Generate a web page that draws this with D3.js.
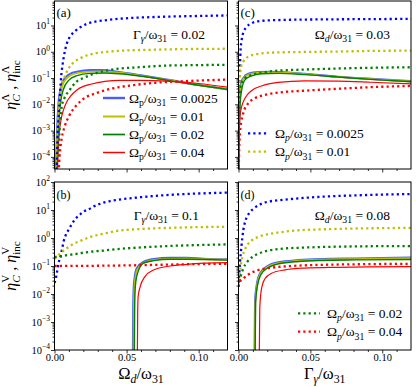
<!DOCTYPE html>
<html>
<head>
<meta charset="utf-8">
<script src="https://cdn.jsdelivr.net/npm/d3@7"></script>
<style>
  body { margin: 0; background: #fff; }
  svg { display: block; }
  text { font-family: "Liberation Serif", "Times New Roman", serif; fill: #000; }
</style>
</head>
<body>
<svg width="416" height="387"></svg>
<script>
// ---- data: [x, eta] pairs ----
// (a) Gamma_gamma/omega31 = 0.02, x = Omega_d/omega31
const aIncBlue = [[0.001,3e-6],[0.0017,8e-5],[0.0021,4.5e-4],[0.0026,1.9e-3],[0.0033,8e-3],[0.004,3.5e-2],[0.0046,0.11],[0.0056,0.32],[0.0069,0.87],[0.0086,2.1],[0.0109,3.8],[0.0144,6.2],[0.0178,8.5],[0.0225,11.5],[0.0282,14],[0.034,15.5],[0.0444,17.8],[0.07,21],[0.09,22.4],[0.108,23.4],[0.12,24]];
const aIncYellow = [[0.0015,1e-5],[0.002,4e-4],[0.003,6.3e-3],[0.004,2.5e-2],[0.005,5.6e-2],[0.007,0.11],[0.0095,0.22],[0.013,0.38],[0.0178,0.56],[0.028,0.87],[0.044,1.07],[0.07,1.2],[0.108,1.29],[0.12,1.3]];
const aIncGreen = [[0.002,1e-5],[0.003,3.2e-4],[0.004,2.5e-3],[0.005,7.9e-3],[0.007,1.8e-2],[0.01,3.2e-2],[0.015,7.1e-2],[0.02,0.1],[0.03,0.16],[0.04,0.21],[0.06,0.26],[0.08,0.3],[0.1,0.31],[0.12,0.32]];
const aIncRed = [[0.0025,1e-5],[0.0035,1e-4],[0.005,5e-4],[0.007,1.4e-3],[0.01,3.5e-3],[0.015,8.9e-3],[0.02,1.6e-2],[0.03,2.8e-2],[0.04,4e-2],[0.055,5.4e-2],[0.07,6.6e-2],[0.09,7.6e-2],[0.108,8.3e-2],[0.12,8.7e-2]];
const aCohBlue = [[0.0007,1e-5],[0.0017,7.9e-4],[0.0026,8.1e-3],[0.004,3.5e-2],[0.0063,8.5e-2],[0.0109,0.145],[0.0155,0.174],[0.025,0.2],[0.032,0.2],[0.045,0.17],[0.06,0.126],[0.08,0.083],[0.1,0.054],[0.12,0.037]];
const aCohYellow = [[0.0009,1e-5],[0.002,6e-4],[0.003,6.3e-3],[0.0045,3e-2],[0.0065,7e-2],[0.011,0.125],[0.016,0.155],[0.025,0.175],[0.033,0.178],[0.045,0.16],[0.06,0.122],[0.08,0.082],[0.1,0.054],[0.12,0.037]];
const aCohGreen = [[0.0011,1e-5],[0.0022,4e-4],[0.003,2.5e-3],[0.004,1e-2],[0.006,3.5e-2],[0.01,8.3e-2],[0.015,0.12],[0.025,0.15],[0.035,0.155],[0.045,0.145],[0.06,0.117],[0.08,0.08],[0.1,0.053],[0.12,0.037]];
const aCohRed = [[0.0017,1e-5],[0.003,5e-4],[0.0045,2.5e-3],[0.0063,6.3e-3],[0.009,1.4e-2],[0.011,2e-2],[0.0155,3.5e-2],[0.02,4.8e-2],[0.025,5.8e-2],[0.035,7.5e-2],[0.045,8.2e-2],[0.06,8.2e-2],[0.08,7.5e-2],[0.1,6.2e-2],[0.12,4.5e-2]];

// (c) Omega_d/omega31 = 0.03, x = Gamma_gamma/omega31
const cIncBlue = [[0,1e-5],[0.0005,1e-2],[0.001,0.25],[0.0015,1.26],[0.0022,2.8],[0.0035,5.6],[0.005,8],[0.009,12],[0.016,15],[0.03,16.2],[0.06,17],[0.09,17.4],[0.12,17.8]];
const cIncYellow = [[0,1e-4],[0.0005,1.6e-2],[0.001,0.11],[0.002,0.3],[0.0033,0.42],[0.0068,0.65],[0.0138,0.83],[0.023,0.93],[0.046,0.98],[0.07,1.02],[0.09,1.07],[0.12,1.1]];
const cIncGreen = [[0,1e-4],[0.0005,8e-3],[0.001,3.2e-2],[0.0022,6.3e-2],[0.0045,9.8e-2],[0.009,0.13],[0.016,0.16],[0.0274,0.19],[0.046,0.21],[0.069,0.23],[0.092,0.245],[0.12,0.257]];
const cIncRed = [[0,1e-5],[0.0005,2e-4],[0.001,8e-4],[0.002,2.2e-3],[0.0033,4.6e-3],[0.0068,1.1e-2],[0.0114,1.7e-2],[0.0184,2.3e-2],[0.0277,2.8e-2],[0.046,3.3e-2],[0.069,3.9e-2],[0.092,4.5e-2],[0.12,5e-2]];
const cCohBlue = [[0,1e-5],[0.0003,1e-3],[0.0006,1.5e-2],[0.0017,6.3e-2],[0.0033,9.8e-2],[0.0068,0.145],[0.0138,0.17],[0.023,0.174],[0.0347,0.162],[0.046,0.145],[0.069,0.112],[0.092,0.093],[0.12,0.076]];
const cCohYellow = [[0,1e-5],[0.0004,1e-3],[0.0008,1.5e-2],[0.002,6e-2],[0.0035,9.3e-2],[0.007,0.135],[0.014,0.16],[0.023,0.165],[0.035,0.156],[0.046,0.142],[0.069,0.11],[0.092,0.092],[0.12,0.075]];
const cCohGreen = [[0,1e-5],[0.0005,1e-3],[0.001,8e-3],[0.0022,3.5e-2],[0.0045,8.5e-2],[0.009,0.12],[0.016,0.145],[0.0277,0.15],[0.046,0.135],[0.069,0.11],[0.092,0.089],[0.12,0.072]];
const cCohRed = [[0,1e-5],[0.0002,1e-4],[0.001,3.4e-3],[0.0022,8.1e-3],[0.0045,1.7e-2],[0.009,3.3e-2],[0.016,5e-2],[0.0277,6.8e-2],[0.046,7.8e-2],[0.069,7.6e-2],[0.092,6.9e-2],[0.12,6e-2]];

// (b) Gamma_gamma/omega31 = 0.1, x = Omega_d/omega31
const bIncBlue = [[0,2.5e-2],[0.0007,3.2e-2],[0.0016,5.5e-2],[0.0028,0.126],[0.004,0.21],[0.0051,0.37],[0.0063,0.74],[0.0074,1.12],[0.0097,1.95],[0.012,3.1],[0.0143,4.7],[0.0173,6.6],[0.0201,8.7],[0.0236,10.5],[0.027,13.2],[0.0305,15.8],[0.034,18.2],[0.0386,20.9],[0.0432,22.9],[0.06,28.8],[0.08,34.7],[0.1,38.9],[0.12,41.7]];
const bIncYellow = [[0,0.18],[0.0028,0.245],[0.0051,0.32],[0.0086,0.43],[0.0132,0.62],[0.0178,0.78],[0.0224,0.98],[0.027,1.17],[0.0317,1.35],[0.0374,1.55],[0.0432,1.78],[0.06,2.1],[0.08,2.3],[0.1,2.45],[0.12,2.5]];
const bIncGreen = [[0,0.21],[0.004,0.215],[0.0086,0.245],[0.0132,0.26],[0.0201,0.3],[0.027,0.33],[0.034,0.355],[0.0432,0.4],[0.06,0.46],[0.08,0.52],[0.1,0.56],[0.12,0.59]];
const bIncRed = [[0,0.1],[0.03,0.102],[0.06,0.107],[0.09,0.115],[0.12,0.12]];
const bCohBlue = [[0.0542,1e-6],[0.0544,1e-4],[0.0546,3e-3],[0.0549,1.5e-2],[0.0555,3.5e-2],[0.0571,8.3e-2],[0.0617,0.141],[0.0687,0.178],[0.0802,0.195],[0.0918,0.195],[0.1033,0.182],[0.12,0.174]];
const bCohYellow = [[0.0546,1e-6],[0.0548,1e-4],[0.055,3e-3],[0.0553,1.4e-2],[0.0559,3.2e-2],[0.0575,7.6e-2],[0.062,0.13],[0.069,0.165],[0.08,0.18],[0.092,0.182],[0.103,0.175],[0.12,0.168]];
const bCohGreen = [[0.0552,1e-6],[0.0554,1e-4],[0.0556,3e-3],[0.0559,1.3e-2],[0.0565,3e-2],[0.058,6.3e-2],[0.0617,0.126],[0.0687,0.155],[0.0802,0.174],[0.0918,0.174],[0.12,0.162]];
const bCohRed = [[0.0573,1e-6],[0.0575,1e-4],[0.0577,2e-3],[0.058,8e-3],[0.0594,1.8e-2],[0.0628,4.2e-2],[0.0687,7.2e-2],[0.0802,0.1],[0.0918,0.115],[0.1033,0.126],[0.12,0.132]];

// (d) Omega_d/omega31 = 0.08, x = Gamma_gamma/omega31
const dIncBlue = [[0,2.5e-2],[0.0004,4.2e-2],[0.001,0.126],[0.002,0.49],[0.0034,1.95],[0.005,4.4],[0.0073,7.6],[0.0108,11.5],[0.0154,16.2],[0.02,19.5],[0.027,22],[0.034,24],[0.045,26.9],[0.06,30.2],[0.08,33.1],[0.1,35.5],[0.12,37.2]];
const dIncYellow = [[0,2e-2],[0.0004,3.2e-2],[0.0015,9.5e-2],[0.0027,0.21],[0.0043,0.37],[0.0061,0.56],[0.0096,0.85],[0.0142,1.12],[0.02,1.35],[0.027,1.55],[0.0363,1.78],[0.0432,1.9],[0.06,2.05],[0.08,2.18],[0.1,2.25],[0.12,2.3]];
const dIncGreen = [[0,1.8e-2],[0.0004,2.4e-2],[0.0015,4.2e-2],[0.0034,8.3e-2],[0.0061,0.14],[0.0096,0.21],[0.0142,0.28],[0.02,0.35],[0.027,0.4],[0.034,0.43],[0.0432,0.45],[0.06,0.48],[0.08,0.5],[0.1,0.51],[0.12,0.51]];
const dIncRed = [[0,1.8e-2],[0.0011,2.8e-2],[0.0034,3.6e-2],[0.0069,5e-2],[0.0138,7.2e-2],[0.023,8.7e-2],[0.037,0.1],[0.058,0.11],[0.081,0.115],[0.12,0.12]];
const dCohBlue = [[0.011,1e-6],[0.0112,1e-4],[0.0115,5.4e-3],[0.0127,2.1e-2],[0.015,5.5e-2],[0.0197,9.5e-2],[0.0278,0.135],[0.0417,0.162],[0.058,0.178],[0.081,0.186],[0.12,0.2]];
const dCohYellow = [[0.0112,1e-6],[0.0114,1e-4],[0.0117,5e-3],[0.0129,2e-2],[0.0152,5.2e-2],[0.02,9e-2],[0.028,0.128],[0.042,0.155],[0.058,0.17],[0.081,0.178],[0.12,0.19]];
const dCohGreen = [[0.0114,1e-6],[0.0116,1e-4],[0.0119,5e-3],[0.0131,1.9e-2],[0.0155,4.8e-2],[0.0203,8.5e-2],[0.028,0.12],[0.042,0.145],[0.058,0.158],[0.081,0.165],[0.12,0.17]];
const dCohRed = [[0.0143,1e-6],[0.0145,1e-4],[0.0148,3e-3],[0.0155,1e-2],[0.0165,2e-2],[0.0184,3.5e-2],[0.023,5.5e-2],[0.0324,7.3e-2],[0.046,8.4e-2],[0.069,9e-2],[0.09,9.3e-2],[0.12,9.5e-2]];

const xTicksMajor = [0, 0.05, 0.1];
const xTicksMinor = [0.01, 0.02, 0.03, 0.04, 0.06, 0.07, 0.08, 0.09, 0.11];
const pumpValues = ["0.0025", "0.01", "0.02", "0.04"];

const colors = { blue: "#0000ff", yellow: "#bfbf00", green: "#008000", red: "#ff0000" };
const solidStyle = {
  blue: { color: "#4b5cff", width: 2.1 },
  yellow: { color: "#bfbf00", width: 1.7 },
  green: { color: "#008000", width: 1.4 },
  red: { color: "#ff0000", width: 1.2 }
};
const dots = "2.2 3.1";

const svg = d3.select("svg");

// text helper: parts = [[string, "sub"|"subit"|"it"|""]]
function rich(g, x, y, parts, size, anchor) {
  const t = g.append("text").attr("x", x).attr("y", y)
    .attr("font-size", size).attr("text-anchor", anchor || "start");
  let shift = 0;
  parts.forEach(([s, kind]) => {
    const ts = t.append("tspan").text(s);
    let target = 0, fs = size;
    if (kind.startsWith("sub")) { target = size * 0.25; fs = size * 0.72; }
    ts.attr("dy", target - shift).attr("font-size", fs);
    if (kind.endsWith("it")) ts.attr("font-style", "italic");
    shift = target;
  });
  return t;
}

const panels = [
  { key: "a", x0: 54.5, x1: 227.5, top: 1, bottom: 169, yLo: Math.pow(10, -4.46), yHi: Math.pow(10, 1.93),
    decades: [1e-4, 1e-3, 1e-2, 1e-1, 1, 10], yLabels: true, xLabels: false,
    inc: [aIncBlue, aIncYellow, aIncGreen, aIncRed], coh: [aCohBlue, aCohYellow, aCohGreen, aCohRed] },
  { key: "c", x0: 238.5, x1: 411, top: 1, bottom: 169, yLo: Math.pow(10, -4.46), yHi: Math.pow(10, 1.93),
    decades: [1e-4, 1e-3, 1e-2, 1e-1, 1, 10], yLabels: false, xLabels: false,
    inc: [cIncBlue, cIncYellow, cIncGreen, cIncRed], coh: [cCohBlue, cCohYellow, cCohGreen, cCohRed] },
  { key: "b", x0: 54.5, x1: 227.5, top: 182, bottom: 350, yLo: 1e-4, yHi: 1e2,
    decades: [1e-4, 1e-3, 1e-2, 1e-1, 1, 10, 100], yLabels: true, xLabels: true,
    inc: [bIncBlue, bIncYellow, bIncGreen, bIncRed], coh: [bCohBlue, bCohYellow, bCohGreen, bCohRed] },
  { key: "d", x0: 238.5, x1: 411, top: 182, bottom: 350, yLo: 1e-4, yHi: 1e2,
    decades: [1e-4, 1e-3, 1e-2, 1e-1, 1, 10, 100], yLabels: false, xLabels: true,
    inc: [dIncBlue, dIncYellow, dIncGreen, dIncRed], coh: [dCohBlue, dCohYellow, dCohGreen, dCohRed] }
];
const order = ["blue", "yellow", "green", "red"];

panels.forEach(p => {
  const x = d3.scaleLinear().domain([0, 0.12]).range([p.x0, p.x1]);
  const y = d3.scaleLog().domain([p.yLo, p.yHi]).range([p.bottom, p.top]);
  const g = svg.append("g");

  g.append("clipPath").attr("id", "clip-" + p.key)
    .append("rect").attr("x", p.x0).attr("y", p.top)
    .attr("width", p.x1 - p.x0).attr("height", p.bottom - p.top);

  const line = d3.line().x(d => x(d[0])).y(d => y(d[1])).curve(d3.curveMonotoneX);
  const plot = g.append("g").attr("clip-path", `url(#clip-${p.key})`);

  p.coh.forEach((s, i) => {
    const st = solidStyle[order[i]];
    plot.append("path").attr("d", line(s)).attr("fill", "none")
      .attr("stroke", st.color).attr("stroke-width", st.width);
  });
  p.inc.forEach((s, i) => {
    plot.append("path").attr("d", line(s)).attr("fill", "none")
      .attr("stroke", colors[order[i]]).attr("stroke-width", 2.3)
      .attr("stroke-dasharray", dots);
  });

  // y ticks
  const minors = [];
  p.decades.concat([p.decades[0] / 10]).forEach(dec => {
    for (let k = 2; k <= 9; k++) {
      const v = dec * k;
      if (v > p.yLo && v < p.yHi) minors.push(v);
    }
  });
  const yAx = g.append("g").attr("transform", `translate(${p.x0},0)`)
    .call(d3.axisLeft(y).tickValues(p.decades).tickSize(3.5).tickFormat(""));
  const yAxMin = g.append("g").attr("transform", `translate(${p.x0},0)`)
    .call(d3.axisLeft(y).tickValues(minors).tickSize(2).tickFormat(""));
  const xAx = g.append("g").attr("transform", `translate(0,${p.bottom})`)
    .call(d3.axisBottom(x).tickValues(xTicksMajor).tickSize(3.5).tickPadding(0.5)
      .tickFormat(p.xLabels ? d3.format(".2f") : ""));
  const xAxMin = g.append("g").attr("transform", `translate(0,${p.bottom})`)
    .call(d3.axisBottom(x).tickValues(xTicksMinor).tickSize(2).tickFormat(""));
  [yAx, yAxMin, xAx, xAxMin].forEach(a => {
    a.select(".domain").remove();
    a.selectAll("line").attr("stroke", "#000").attr("stroke-width", 0.8);
    a.selectAll("text").attr("font-family", "Liberation Serif").attr("font-size", 10.5).attr("fill", "#000");
  });

  if (p.yLabels) {
    p.decades.forEach(v => {
      const e = Math.round(Math.log10(v));
      const t = g.append("text").attr("x", p.x0 - 4.5).attr("y", y(v) + 3.5)
        .attr("text-anchor", "end").attr("font-size", 10.5);
      t.append("tspan").text("10");
      t.append("tspan").text(e < 0 ? "\u2212" + (-e) : String(e))
        .attr("font-size", 7.5).attr("dy", -4.5);
    });
  }

  g.append("rect").attr("x", p.x0).attr("y", p.top)
    .attr("width", p.x1 - p.x0).attr("height", p.bottom - p.top)
    .attr("fill", "none").attr("stroke", "#000").attr("stroke-width", 1);

  p.g = g;
  p.x = x;
  p.y = y;
});

const [pa, pc, pb, pd] = panels;

// panel labels
svg.append("text").attr("x", 56.5).attr("y", 17).attr("font-size", 13).text("(a)");
svg.append("text").attr("x", 240.5).attr("y", 17).attr("font-size", 13).text("(c)");
svg.append("text").attr("x", 56.5).attr("y", 199).attr("font-size", 12)
  .attr("font-family", "DejaVu Sans").text("(b)");
svg.append("text").attr("x", 240.5).attr("y", 199).attr("font-size", 12)
  .attr("font-family", "DejaVu Sans").text("(d)");

// fixed-parameter annotations
rich(svg, 205, 39, [["Γ", ""], ["γ", "subit"], ["/ω", ""], ["31", "sub"], [" = 0.02", ""]], 13.5, "end");
rich(svg, 199, 220, [["Γ", ""], ["γ", "subit"], ["/ω", ""], ["31", "sub"], [" = 0.1", ""]], 13.5, "end");
rich(svg, 390, 39, [["Ω", ""], ["d", "subit"], ["/ω", ""], ["31", "sub"], [" = 0.03", ""]], 13.5, "end");
rich(svg, 390, 220, [["Ω", ""], ["d", "subit"], ["/ω", ""], ["31", "sub"], [" = 0.08", ""]], 13.5, "end");

// legends
const legA = [98, 116.5, 134.5, 152.5];
order.forEach((c, i) => {
  const st = solidStyle[c];
  svg.append("line").attr("x1", 103).attr("x2", 125).attr("y1", legA[i]).attr("y2", legA[i])
    .attr("stroke", st.color).attr("stroke-width", st.width + 0.3);
  rich(svg, 129, legA[i] + 4.5, [["Ω", ""], ["p", "sub"], ["/ω", ""], ["31", "sub"], [" = " + pumpValues[i], ""]], 13.5);
});
const legC = [[133.3, 0], [151.7, 1]];
legC.forEach(([yy, i]) => {
  svg.append("line").attr("x1", 248).attr("x2", 268).attr("y1", yy).attr("y2", yy)
    .attr("stroke", colors[order[i]]).attr("stroke-width", 2.3).attr("stroke-dasharray", dots);
  rich(svg, 275, yy + 4.5, [["Ω", ""], ["p", "subit"], ["/ω", ""], ["31", "sub"], [" = " + pumpValues[i], ""]], 13.5);
});
const legD = [[313.3, 2], [331.7, 3]];
legD.forEach(([yy, i]) => {
  svg.append("line").attr("x1", 298).attr("x2", 320).attr("y1", yy).attr("y2", yy)
    .attr("stroke", colors[order[i]]).attr("stroke-width", 2.3).attr("stroke-dasharray", dots);
  rich(svg, 327, yy + 4.5, [["Ω", ""], ["p", "subit"], ["/ω", ""], ["31", "sub"], [" = " + pumpValues[i], ""]], 13.5);
});

// x axis titles
rich(svg, (pb.x0 + pb.x1) / 2, 379, [["Ω", ""], ["d", "subit"], ["/ω", ""], ["31", "sub"]], 16.5, "middle");
rich(svg, (pd.x0 + pd.x1) / 2, 379, [["Γ", ""], ["γ", "subit"], ["/ω", ""], ["31", "sub"]], 16.5, "middle");

// y axis titles with stacked sub/superscripts
function etaLabel(cy, supText, subFirstItalic) {
  const t = svg.append("text").attr("transform", `translate(16,${cy}) rotate(-90)`)
    .attr("text-anchor", "middle").attr("font-size", 16);
  const addEta = (subText, italic, first) => {
    t.append("tspan").text(first ? "η" : " , η").attr("dy", first ? 0 : 7).attr("font-style", "italic");
    const sub = t.append("tspan").text(subText).attr("font-size", 11).attr("dy", 4);
    if (italic) sub.attr("font-style", "italic");
    const w = sub.node().getComputedTextLength();
    t.append("tspan").text(supText).attr("font-size", 11).attr("dx", -w).attr("dy", -11);
  };
  addEta("C", subFirstItalic, true);
  addEta("inc", false, false);
}
etaLabel((pa.top + pa.bottom) / 2, "Λ", true);
etaLabel((pb.top + pb.bottom) / 2, "V", true);
</script>
</body>
</html>
